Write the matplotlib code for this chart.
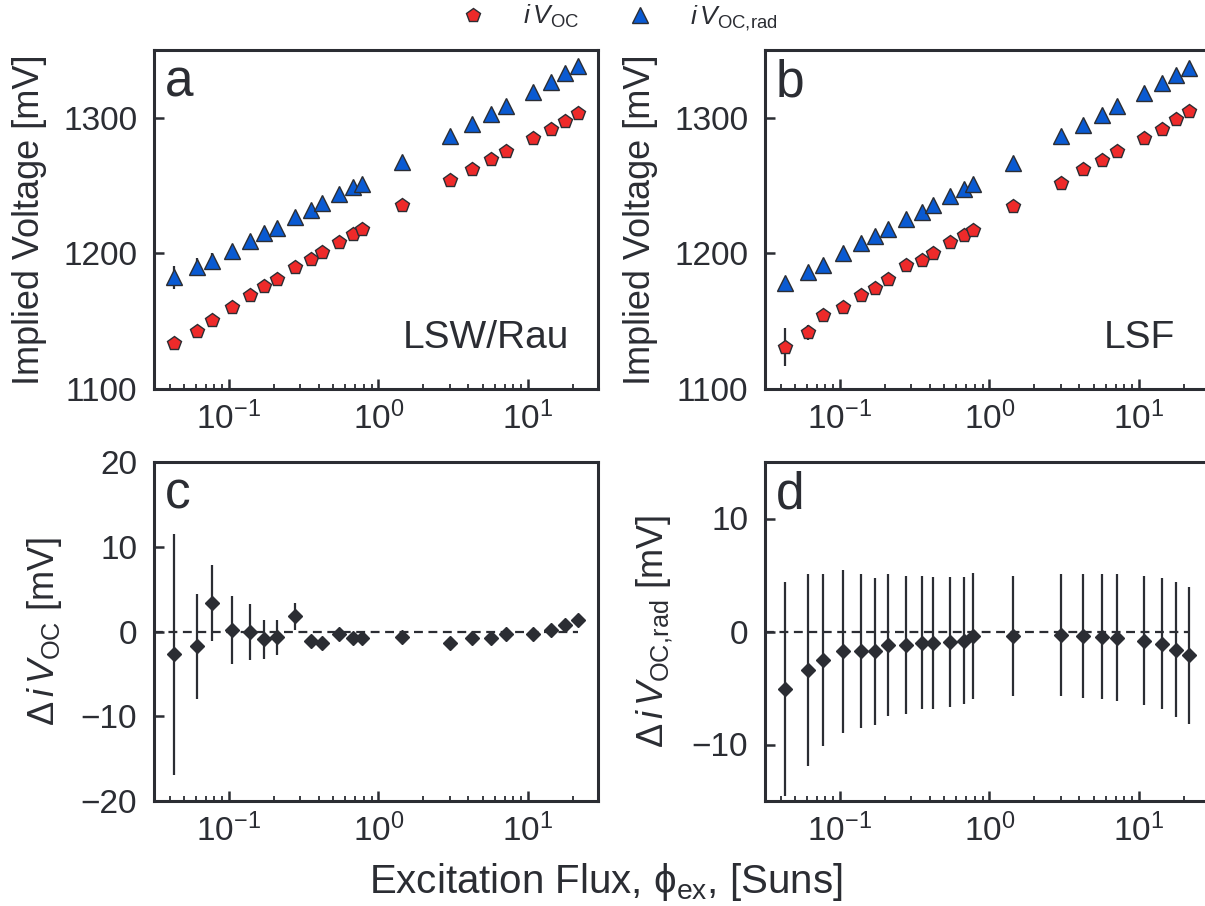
import matplotlib
matplotlib.use('Agg')
import matplotlib.pyplot as plt
from matplotlib.lines import Line2D
from matplotlib.ticker import LogLocator, NullFormatter, FixedLocator

# ---------------- data ----------------
flux = [0.0432, 0.0608, 0.0766, 0.1045, 0.1387, 0.1718, 0.2099, 0.278, 0.3524,
        0.4169, 0.547, 0.6745, 0.7798, 1.436, 3.006, 4.227, 5.662, 7.112,
        10.76, 14.19, 17.82, 21.83]

# panel a (LSW/Rau)
a_voc = [1133.8, 1142.9, 1151.0, 1160.7, 1169.3, 1176.0, 1181.3, 1189.7, 1196.0,
         1200.7, 1208.3, 1214.4, 1218.1, 1235.7, 1253.9, 1262.5, 1269.9, 1275.4,
         1285.3, 1291.6, 1298.0, 1303.4]
a_voc_err = [2.0, 1.5, 1.5, 1.2, 1.0, 1.0, 1.0, 0.8, 0.8, 0.8, 0.6, 0.6, 0.6,
             0.5, 0.5, 0.5, 0.5, 0.5, 0.5, 0.5, 0.5, 0.5]
a_rad = [1182.4, 1190.2, 1194.6, 1201.7, 1209.3, 1214.7, 1219.1, 1226.9, 1231.8,
         1236.8, 1243.6, 1249.0, 1251.0, 1267.4, 1286.3, 1295.6, 1303.0, 1308.6,
         1318.9, 1326.3, 1333.2, 1338.5]
a_rad_err = [8.5, 6.5, 6.0, 4.0, 3.5, 3.0, 3.0, 2.0, 2.0, 1.5, 1.5, 1.5, 1.5,
             1.0, 1.0, 1.0, 1.0, 1.0, 1.0, 1.0, 1.0, 1.0]

# panel b (LSF)
b_voc = [1130.9, 1141.9, 1154.6, 1160.3, 1169.3, 1174.7, 1181.3, 1191.4, 1195.1,
         1200.0, 1208.1, 1213.5, 1217.1, 1234.8, 1252.2, 1262.5, 1269.1, 1275.2,
         1285.3, 1291.6, 1298.8, 1304.9]
b_voc_err = [14.0, 5.5, 3.0, 2.5, 2.0, 2.0, 2.0, 1.5, 1.5, 1.5, 1.0, 1.0, 1.0,
             1.0, 0.5, 0.5, 0.5, 0.5, 0.5, 0.5, 0.5, 0.5]
b_rad = [1177.9, 1186.0, 1191.4, 1200.0, 1207.4, 1212.7, 1217.9, 1225.7, 1230.6,
         1235.5, 1242.4, 1247.8, 1251.0, 1266.7, 1286.3, 1294.4, 1301.7, 1308.4,
         1318.2, 1325.6, 1331.2, 1336.8]
b_rad_err = [2.0, 1.5, 1.5, 1.0, 1.0, 1.0, 1.0, 1.0, 1.0, 1.0, 1.0, 1.0, 1.0,
             1.0, 1.0, 1.0, 1.0, 1.0, 1.0, 1.0, 1.0, 1.0]

# panel c: difference in iVoc
c_diff = [-2.7, -1.76, 3.4, 0.2, -0.1, -0.9, -0.7, 1.8, -1.1, -1.4, -0.3, -0.8,
          -0.8, -0.6, -1.3, -0.8, -0.8, -0.3, -0.3, 0.15, 0.8, 1.4]
c_err = [14.2, 6.2, 4.5, 4.0, 3.3, 2.3, 2.1, 1.6, 0.6, 0.6, 0.4, 0.4, 0.4, 0.4,
         0.4, 0.4, 0.4, 0.4, 0.4, 0.4, 0.6, 0.4]

# panel d: difference in iVoc,rad
d_diff = [-5.1, -3.4, -2.5, -1.75, -1.75, -1.75, -1.2, -1.2, -1.0, -1.0, -0.9,
          -0.8, -0.4, -0.4, -0.3, -0.4, -0.45, -0.55, -0.8, -1.1, -1.6, -2.1]
d_err = [9.5, 8.5, 7.6, 7.2, 6.8, 6.5, 6.3, 6.1, 5.9, 5.85, 5.75, 5.65, 5.6,
         5.3, 5.4, 5.45, 5.5, 5.6, 5.7, 5.8, 5.95, 6.05]

panel_letters = ['a', 'b', 'c', 'd']
sample_names = ['LSW/Rau', 'LSF']
xlim = (0.0315, 29.5)

# ---------------- style ----------------
dark = '#2b2d33'
red = '#ee2a2a'
blue = '#0a5ad2'
plt.rcParams.update({
    'font.family': ['Liberation Sans', 'DejaVu Sans'],
    'mathtext.fontset': 'custom',
    'mathtext.rm': 'Liberation Sans',
    'mathtext.it': 'Liberation Sans:italic',
    'mathtext.bf': 'Liberation Sans:bold',
    'text.color': dark,
    'axes.labelcolor': dark,
    'axes.edgecolor': dark,
    'xtick.color': dark,
    'ytick.color': dark,
    'axes.linewidth': 2.2,
})

fig = plt.figure(figsize=(12.05, 9.06), dpi=100)
W, H = 1205.0, 906.0

def make_ax(left, top, right, bottom):
    return fig.add_axes([left / W, 1 - bottom / H, (right - left) / W, (bottom - top) / H])

ax_a = make_ax(154, 50, 598, 389)
ax_b = make_ax(765, 50, 1209, 389)
ax_c = make_ax(154, 462, 598, 801)
ax_d = make_ax(765, 462, 1209, 801)

TICK_FS = 24
LABEL_FS = 26

def style(ax):
    ax.set_xscale('log')
    ax.set_xlim(*xlim)
    ax.xaxis.set_major_locator(LogLocator(base=10, numticks=10))
    ax.xaxis.set_minor_locator(LogLocator(base=10, subs=range(2, 10), numticks=20))
    ax.xaxis.set_minor_formatter(NullFormatter())
    ax.tick_params(axis='both', which='major', direction='in', length=7, width=1.8,
                   labelsize=TICK_FS, top=False, right=False)
    ax.tick_params(axis='y', which='major', pad=12)
    ax.tick_params(axis='x', which='major', pad=9)
    ax.tick_params(axis='x', which='minor', direction='in', length=3.5, width=1.3,
                   top=False)
    for s in ax.spines.values():
        s.set_linewidth(2.2)

for ax in (ax_a, ax_b, ax_c, ax_d):
    style(ax)

ekw = dict(ecolor=dark, elinewidth=1.6, capsize=0, linestyle='none', zorder=3)

for ax, voc, voce, rad, rade, name in ((ax_a, a_voc, a_voc_err, a_rad, a_rad_err, sample_names[0]),
                                      (ax_b, b_voc, b_voc_err, b_rad, b_rad_err, sample_names[1])):
    ax.errorbar(flux, voc, yerr=voce, marker='p', ms=10, mfc=red, mec=dark, mew=1.0, **ekw)
    ax.errorbar(flux, rad, yerr=rade, marker='^', ms=11, mfc=blue, mec=dark, mew=1.0, **ekw)
    ax.set_ylim(1100, 1350)
    ax.yaxis.set_major_locator(FixedLocator([1100, 1200, 1300]))
    ax.set_ylabel('Implied Voltage [mV]', fontsize=LABEL_FS, labelpad=12)
    ax.text(0.935 if ax is ax_a else 0.923, 0.12, name, transform=ax.transAxes,
            ha='right', va='baseline', fontsize=28)

for ax, diff, err in ((ax_c, c_diff, c_err), (ax_d, d_diff, d_err)):
    ax.hlines(0, xlim[0], flux[-1], colors=dark, linestyles=(0, (4, 2.5)), linewidth=1.6, zorder=1)
    ax.errorbar(flux, diff, yerr=err, marker='D', ms=7.5, mfc=dark, mec=dark, **ekw)

ax_c.set_ylim(-20, 20)
ax_c.yaxis.set_major_locator(FixedLocator([-20, -10, 0, 10, 20]))
ax_c.set_ylabel(r'$\Delta\,i\,V_{\mathrm{OC}}$ [mV]', fontsize=LABEL_FS, labelpad=12)
ax_d.set_ylim(-15, 15)
ax_d.yaxis.set_major_locator(FixedLocator([-10, 0, 10]))
ax_d.set_ylabel(r'$\Delta\,i\,V_{\mathrm{OC,\!rad}}$ [mV]', fontsize=LABEL_FS, labelpad=12)

for ax, letter in zip((ax_a, ax_b, ax_c, ax_d), panel_letters):
    ax.text(0.025, 0.975, letter, transform=ax.transAxes, ha='left', va='top', fontsize=37)

fig.text(606 / W, 1 - 893 / H, r'Excitation Flux, ϕ$_{\mathrm{ex}}$, [Suns]',
         ha='center', va='baseline', fontsize=29)

handles = [Line2D([], [], marker='p', ms=10, mfc=red, mec=dark, mew=1.0, ls='none'),
           Line2D([], [], marker='^', ms=11, mfc=blue, mec=dark, mew=1.0, ls='none')]
fig.legend(handles, [r'$i\,V_{\mathrm{OC}}$', r'$i\,V_{\mathrm{OC,\!rad}}$'],
           loc='center', bbox_to_anchor=(612 / W, 1 - 18 / H), ncol=2, frameon=False,
           fontsize=19, handletextpad=0.9, columnspacing=1.3)

fig.savefig('out.png', dpi=100)
